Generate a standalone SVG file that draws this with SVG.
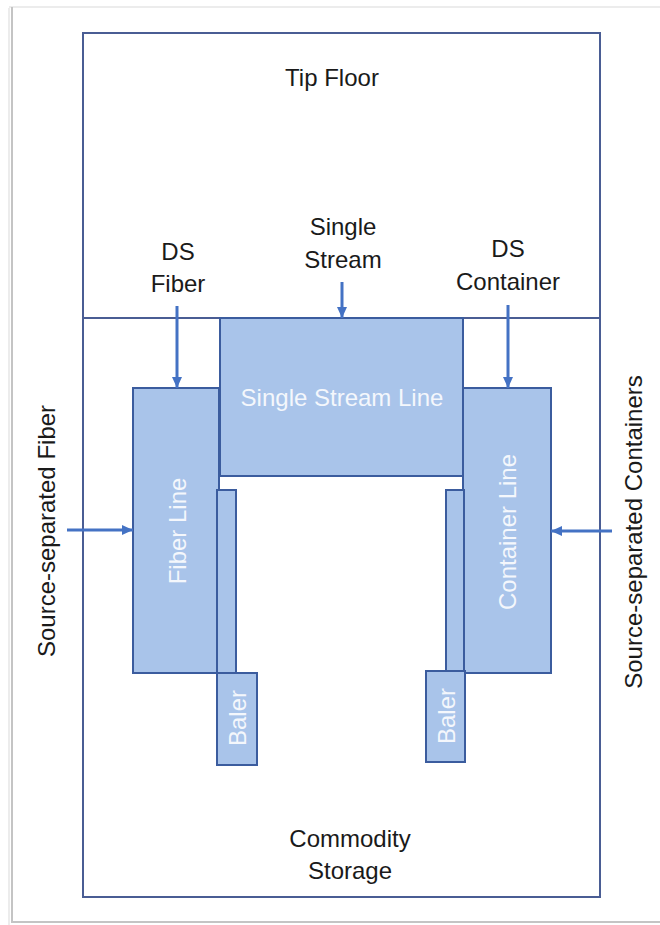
<svg xmlns="http://www.w3.org/2000/svg" width="660" height="925" viewBox="0 0 660 925">
  <style>
    .page { fill: #ffffff; }
    .frame { fill: none; stroke: #4a5d94; stroke-width: 2; }
    .box { fill: #a9c4ea; stroke: #3b5c9e; stroke-width: 2; }
    .label { font-family: "Liberation Sans", Arial, sans-serif; font-size: 24px; fill: #1a1a1a; text-anchor: middle; }
    .inner { font-family: "Liberation Sans", Arial, sans-serif; font-size: 24px; fill: #f4f7fc; text-anchor: middle; }
    .conn { stroke: #4472c4; stroke-width: 3; fill: none; marker-end: url(#arrow); }
  </style>
  <defs>
    <marker id="arrow" markerUnits="userSpaceOnUse" markerWidth="12" markerHeight="12" viewBox="0 0 12 12" refX="11" refY="6" orient="auto">
      <path d="M0,1 L11,6 L0,11 Z" fill="#4472c4"/>
    </marker>
  </defs>

  <!-- page -->
  <rect x="0" y="0" width="660" height="925" fill="#ffffff"/>
  <g id="page-edge">
    <line x1="9" y1="7" x2="660" y2="7" stroke="#ececec" stroke-width="2"/>
    <line x1="12" y1="7" x2="12" y2="923" stroke="#c4c4c4" stroke-width="2"/>
    <line x1="9" y1="8" x2="9" y2="925" stroke="#ececec" stroke-width="2"/>
    <line x1="12" y1="922" x2="660" y2="922" stroke="#c4c4c4" stroke-width="2"/>
  </g>

  <!-- facility frame -->
  <g id="facility">
    <rect class="frame" x="83" y="33" width="517" height="864"/>
    <line class="frame" x1="83" y1="318" x2="600" y2="318"/>
  </g>

  <g id="tip-floor">
    <text class="label" x="332" y="86">Tip Floor</text>
  </g>

  <g id="commodity-storage">
    <text class="label" x="350" y="847">Commodity</text>
    <text class="label" x="350" y="879">Storage</text>
  </g>

  <g id="single-stream-line">
    <rect class="box" x="220" y="318" width="243" height="158"/>
    <text class="inner" x="342" y="406">Single Stream Line</text>
  </g>

  <g id="fiber-line">
    <rect class="box" x="133" y="388" width="86" height="285"/>
    <text class="inner" transform="translate(186,531) rotate(-90)">Fiber Line</text>
  </g>
  <g id="fiber-conveyor">
    <rect class="box" x="217" y="490" width="19" height="183"/>
  </g>
  <g id="fiber-baler">
    <rect class="box" x="217" y="673" width="40" height="92"/>
    <text class="inner" transform="translate(246,718) rotate(-90)">Baler</text>
  </g>

  <g id="container-line">
    <rect class="box" x="463" y="388" width="88" height="285"/>
    <text class="inner" transform="translate(516,532) rotate(-90)">Container Line</text>
  </g>
  <g id="container-conveyor">
    <rect class="box" x="446" y="490" width="18" height="181"/>
  </g>
  <g id="container-baler">
    <rect class="box" x="426" y="671" width="39" height="91"/>
    <text class="inner" transform="translate(455,716) rotate(-90)">Baler</text>
  </g>

  <g id="ds-fiber">
    <text class="label" x="178" y="260">DS</text>
    <text class="label" x="178" y="292">Fiber</text>
  </g>
  <g id="single-stream">
    <text class="label" x="343" y="235">Single</text>
    <text class="label" x="343" y="268">Stream</text>
  </g>
  <g id="ds-container">
    <text class="label" x="508" y="257">DS</text>
    <text class="label" x="508" y="290">Container</text>
  </g>
  <g id="source-separated-fiber">
    <text class="label" transform="translate(55,531) rotate(-90)">Source-separated Fiber</text>
  </g>
  <g id="source-separated-containers">
    <text class="label" transform="translate(642,532) rotate(-90)">Source-separated Containers</text>
  </g>

  <g id="connectors">
    <line class="conn" x1="177" y1="306" x2="177" y2="388"/>
    <line class="conn" x1="342" y1="282" x2="342" y2="318"/>
    <line class="conn" x1="508" y1="305" x2="508" y2="388"/>
    <line class="conn" x1="67" y1="530" x2="133" y2="530"/>
    <line class="conn" x1="612" y1="531" x2="551" y2="531"/>
  </g>
</svg>
